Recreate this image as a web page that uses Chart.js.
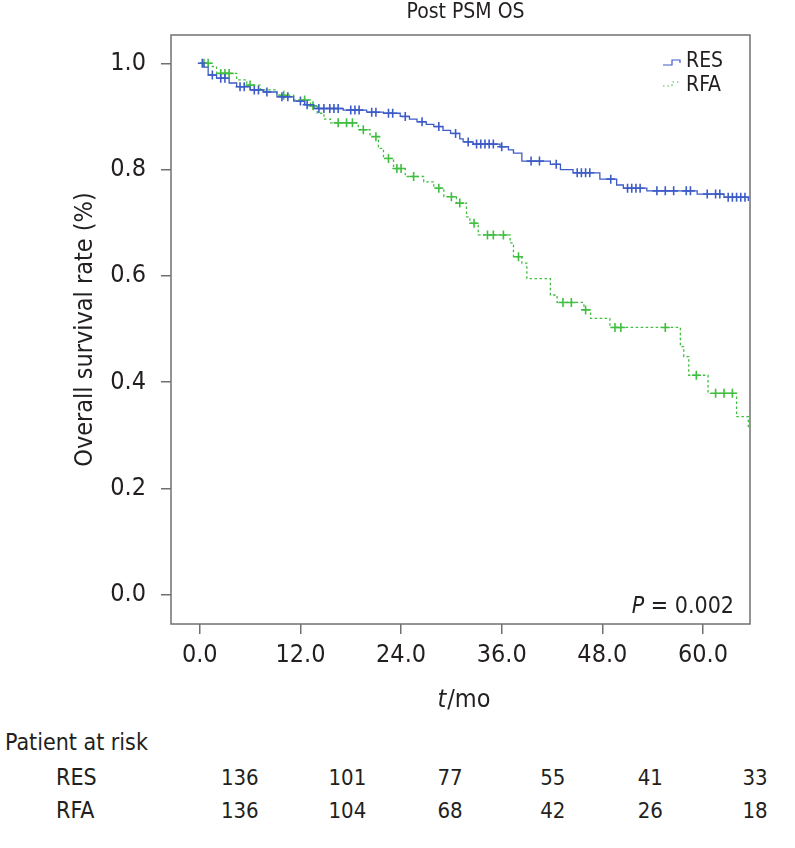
<!DOCTYPE html>
<html>
<head>
<meta charset="utf-8">
<script src="https://cdn.jsdelivr.net/npm/chart.js@4/dist/chart.umd.min.js"></script>
<style>
    body { margin: 0; background: #fff; }
    #wrap { position: relative; width: 795px; height: 848px; font-family: "DejaVu Sans Condensed", "DejaVu Sans", sans-serif; color: #231f20; }
    #km-chart { position: absolute; left: 0; top: 0; }
    .risk { position: absolute; font-size: 23px; white-space: nowrap; transform: translateY(-50%); }
    .num { font-size: 22px; transform: translate(-50%, -50%); }
</style>
</head>
<body>
<div id="wrap">
    <canvas id="km-chart" width="795" height="720"></canvas>
</div>
<script>
// Kaplan-Meier steps (months, survival)
const resTimes = [0, 0.5, 1.0, 2.0, 3.5, 4.4, 6.0, 7.6, 9.2, 11.2, 12.5, 13.6, 17.1, 19.9, 21.9, 23.9, 25.0, 25.9, 27.0, 27.9, 29.0, 29.9, 31.0, 31.4, 32.6, 35.8, 36.8, 37.4, 38.4, 41.8, 43.0, 44.5, 47.7, 49.7, 50.5, 53.3, 59.3, 62.5, 65.4];
const resSurv = [1.0, 0.993, 0.978, 0.972, 0.963, 0.956, 0.950, 0.946, 0.937, 0.929, 0.922, 0.915, 0.912, 0.908, 0.906, 0.900, 0.895, 0.890, 0.885, 0.881, 0.874, 0.868, 0.858, 0.852, 0.848, 0.843, 0.837, 0.831, 0.816, 0.810, 0.800, 0.794, 0.782, 0.771, 0.765, 0.760, 0.754, 0.748, 0.741];
const rfaTimes = [0, 1.5, 2.0, 4.4, 5.6, 7.2, 9.2, 11.2, 13.2, 14.0, 14.8, 15.6, 18.9, 20.3, 21.3, 21.9, 23.1, 24.5, 26.7, 27.9, 29.1, 30.6, 31.8, 32.2, 33.2, 37.0, 37.4, 38.4, 39.0, 41.8, 42.6, 45.8, 46.6, 48.9, 57.3, 57.7, 58.3, 60.6, 64.0, 65.4];
const rfaSurv = [1.0, 0.994, 0.981, 0.969, 0.959, 0.950, 0.940, 0.931, 0.920, 0.906, 0.895, 0.888, 0.875, 0.862, 0.840, 0.821, 0.802, 0.787, 0.777, 0.765, 0.749, 0.737, 0.711, 0.699, 0.677, 0.662, 0.636, 0.624, 0.595, 0.564, 0.550, 0.536, 0.520, 0.503, 0.467, 0.448, 0.413, 0.379, 0.335, 0.314];

// censoring marks (months)
const resCensor = [0.3, 1.5, 2.5, 3.0, 4.8, 5.3, 6.5, 7.0, 8.0, 9.8, 10.5, 12.0, 12.8, 14.2, 14.8, 15.5, 16.0, 16.5, 18.0, 18.5, 19.0, 20.5, 21.0, 22.5, 23.0, 24.5, 26.5, 28.5, 30.5, 32.0, 33.0, 33.5, 34.0, 34.5, 35.0, 36.0, 39.5, 40.5, 42.5, 45.0, 45.5, 46.0, 46.5, 49.0, 51.0, 51.5, 52.0, 52.5, 54.5, 55.5, 56.5, 58.0, 58.5, 60.5, 61.5, 62.0, 63.0, 63.5, 64.0, 64.5, 65.0];
const rfaCensor = [0.5, 1.0, 2.5, 3.0, 3.5, 6.0, 10.0, 12.5, 13.5, 16.5, 17.5, 18.2, 19.5, 21.0, 22.5, 23.5, 24.0, 25.5, 28.5, 30.0, 31.0, 32.7, 34.3, 35.0, 36.2, 38.0, 43.3, 44.3, 46.0, 49.5, 50.2, 55.5, 59.2, 61.5, 62.5, 63.5];

const xTickVals = [0, 12, 24, 36, 48, 60];
const yTickVals = [0, 0.2, 0.4, 0.6, 0.8, 1.0];
const groups = ['RES', 'RFA'];
const resAtRisk = [136, 101, 77, 55, 41, 33];
const rfaAtRisk = [136, 104, 68, 42, 26, 18];

const BLUE = 'rgb(62, 92, 200)';
const GREEN = 'rgb(64, 190, 64)';
const INK = '#231f20';
const FONT = '"DejaVu Sans Condensed", "DejaVu Sans", sans-serif';

const toPoints = (times, surv) => times.map((t, i) => ({ x: t, y: surv[i] }));

// survival value in force at time t (step function lookup)
const survAt = (times, surv, t) => {
    let v = surv[0];
    times.forEach((tt, i) => { if (tt <= t) v = surv[i]; });
    return v;
};
const censorPoints = (cens, times, surv) => cens.map(t => ({ x: t, y: survAt(times, surv, t) }));

// frame, title, legend, axis titles and p value
const decorations = {
    id: 'decorations',
    afterDraw(chart) {
        const { ctx, chartArea: a } = chart;
        ctx.save();
        ctx.strokeStyle = '#707070';
        ctx.lineWidth = 1.5;
        ctx.strokeRect(a.left, a.top, a.right - a.left, a.bottom - a.top);

        ctx.fillStyle = INK;
        ctx.textBaseline = 'middle';
        ctx.textAlign = 'center';
        ctx.font = '21px ' + FONT;
        ctx.fillText('Post PSM OS', (a.left + a.right) / 2 + 5, 13);

        // x title with italic t
        const cx = (a.left + a.right) / 2 + 3;
        ctx.font = 'italic 25px ' + FONT;
        const wT = ctx.measureText('t').width;
        ctx.font = '25px ' + FONT;
        const wR = ctx.measureText('/mo').width;
        ctx.textAlign = 'left';
        ctx.font = 'italic 25px ' + FONT;
        ctx.fillText('t', cx - (wT + wR) / 2, 700);
        ctx.font = '25px ' + FONT;
        ctx.fillText('/mo', cx - (wT + wR) / 2 + wT + 1, 700);

        // y title
        ctx.save();
        ctx.translate(85, (a.top + a.bottom) / 2);
        ctx.rotate(-Math.PI / 2);
        ctx.textAlign = 'center';
        ctx.fillText('Overall survival rate (%)', 0, 0);
        ctx.restore();

        // p value
        ctx.textAlign = 'right';
        ctx.font = '23px ' + FONT;
        const num = ' = 0.002';
        const wN = ctx.measureText(num).width;
        ctx.fillText(num, a.right - 16, 607);
        ctx.font = 'italic 23px ' + FONT;
        ctx.fillText('P', a.right - 16 - wN, 607);

        // legend
        ctx.font = '21px ' + FONT;
        ctx.textAlign = 'left';
        ctx.fillText(groups[0], 686, 62);
        ctx.fillText(groups[1], 686, 86);
        ctx.strokeStyle = BLUE;
        ctx.lineWidth = 1.2;
        ctx.beginPath();
        ctx.moveTo(663, 65);
        ctx.lineTo(672, 65);
        ctx.lineTo(672, 60);
        ctx.lineTo(680, 60);
        ctx.lineTo(680, 63);
        ctx.stroke();
        ctx.strokeStyle = GREEN;
        ctx.setLineDash([1.5, 3]);
        ctx.beginPath();
        ctx.moveTo(663, 86);
        ctx.lineTo(672, 86);
        ctx.lineTo(672, 82);
        ctx.lineTo(680, 82);
        ctx.stroke();
        ctx.restore();
    }
};

const axisStyle = {
    grid: { drawOnChartArea: false, drawTicks: true, tickLength: 10, color: '#707070', lineWidth: 1.5 },
    border: { display: false },
};

const chart = new Chart(document.getElementById('km-chart').getContext('2d'), {
    type: 'line',
    data: {
        datasets: [
            { data: toPoints(resTimes, resSurv), borderColor: BLUE, borderWidth: 1.3, stepped: true, pointRadius: 0, fill: false },
            { data: toPoints(rfaTimes, rfaSurv), borderColor: GREEN, borderWidth: 1.3, borderDash: [2.5, 2.5], stepped: true, pointRadius: 0, fill: false },
            { type: 'scatter', data: censorPoints(resCensor, resTimes, resSurv), showLine: false, pointStyle: 'cross', pointRadius: 4.5, borderColor: BLUE, borderWidth: 1.6 },
            { type: 'scatter', data: censorPoints(rfaCensor, rfaTimes, rfaSurv), showLine: false, pointStyle: 'cross', pointRadius: 4.5, borderColor: GREEN, borderWidth: 1.6 },
        ],
    },
    options: {
        responsive: false,
        animation: false,
        layout: { padding: { top: 35, right: 45, left: 0, bottom: 0 } },
        plugins: { legend: { display: false }, tooltip: { enabled: false } },
        scales: {
            x: {
                type: 'linear',
                position: 'bottom',
                min: -3.43,
                max: 65.6,
                ...axisStyle,
                ticks: { color: INK, font: { family: FONT, size: 25 }, padding: 6, maxRotation: 0, callback: v => v.toFixed(1) },
                afterBuildTicks: s => { s.ticks = xTickVals.map(v => ({ value: v })); },
                afterFit: s => { s.height = 96; },
            },
            y: {
                type: 'linear',
                min: -0.0551,
                max: 1.0533,
                ...axisStyle,
                ticks: { color: INK, font: { family: FONT, size: 25 }, padding: 15, callback: v => v.toFixed(1) },
                afterBuildTicks: s => { s.ticks = yTickVals.map(v => ({ value: v })); },
                afterFit: s => { s.width = 171; },
            },
        },
    },
    plugins: [decorations],
});

// Patient at risk table (html text under the chart)
const wrap = document.getElementById('wrap');
const addText = (text, x, y, cls) => {
    const el = document.createElement('div');
    el.className = cls;
    el.textContent = text;
    el.style.left = x + 'px';
    el.style.top = y + 'px';
    wrap.appendChild(el);
};
const colShift = [40, 47, 49, 51, 48, 52];
addText('Patient at risk', 5, 742, 'risk');
[resAtRisk, rfaAtRisk].forEach((row, r) => {
    const y = 777 + r * 33;
    addText(groups[r], 56, y, 'risk');
    row.forEach((n, i) => {
        addText(String(n), chart.scales.x.getPixelForValue(xTickVals[i]) + colShift[i], y, 'risk num');
    });
});
</script>
</body>
</html>
